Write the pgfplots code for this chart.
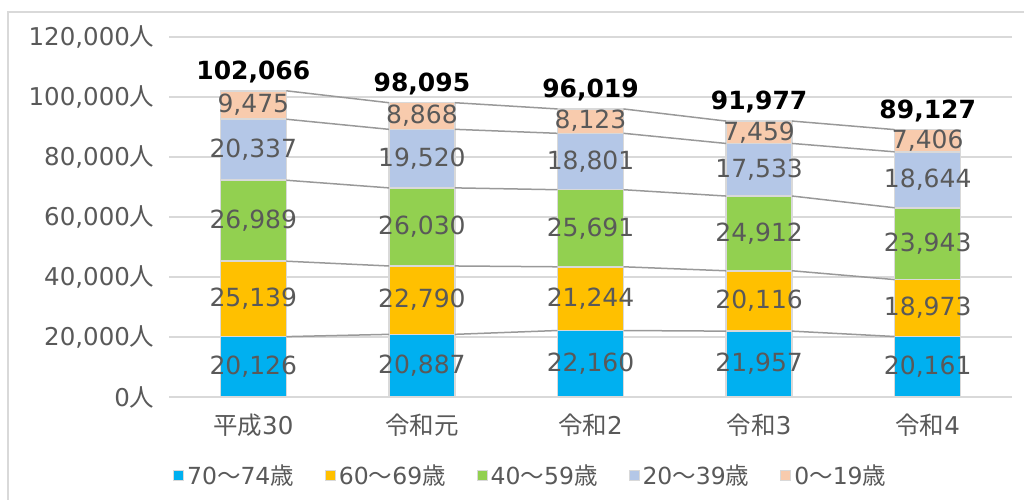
\documentclass[border=0pt]{standalone}
\usepackage{fontspec}
\setmainfont{DejaVu Sans}
\newfontfamily\cjk{Noto Sans CJK JP}
\usepackage{pgfplots}
\pgfplotsset{compat=1.18}
\definecolor{c1}{HTML}{00B0F0}
\definecolor{c2}{HTML}{FFC000}
\definecolor{c3}{HTML}{92D050}
\definecolor{c4}{HTML}{B4C7E7}
\definecolor{c5}{HTML}{F8CBAD}
\definecolor{txt}{HTML}{595959}
\definecolor{gridc}{HTML}{D9D9D9}
\definecolor{conn}{HTML}{999999}
\pgfkeys{/pgf/number format/.cd, fixed, precision=0, 1000 sep={,}}
\pgfplotsset{
  segment/.style={
    fill=#1, draw=gridc, line width=1.5pt,
    legend image code/.code={\draw[fill=#1,draw=gridc,line width=1pt] (0pt,-5pt) rectangle (10pt,5pt);},
  },
  midlabel/.style={
    draw=none, mark=none, point meta=explicit,
    nodes near coords={\pgfmathprintnumber[assume math mode=true]{\pgfplotspointmeta}},
    every node near coord/.append style={anchor=center, inner sep=0pt,
      font=\fontsize{25}{28}\selectfont, text=txt},
  },
}
\begin{document}
\begin{tikzpicture}
\useasboundingbox (0,0) rectangle (1024pt,499pt);
\draw[gridc, line width=2pt] (8pt,-20pt) rectangle (1050pt,487pt);
\begin{axis}[
  at={(169pt,102pt)}, anchor=south west,
  scale only axis, width=843pt, height=360pt,
  ybar stacked, bar width=66pt,
  xmin=-0.5, xmax=4.5, ymin=0, ymax=120000,
  xtick={0,1,2,3,4}, xticklabels={{\cjk 平成}30,{\cjk 令和元},{\cjk 令和}2,{\cjk 令和}3,{\cjk 令和}4},
  ytick={0,20000,40000,60000,80000,100000,120000},
  scaled y ticks=false,
  /pgf/number format/assume math mode=true,
  yticklabel={\pgfmathprintnumber{\tick}{\cjk 人}},
  ymajorgrids, grid style={gridc, line width=1.5pt},
  axis line style={draw=none},
  major tick length=0pt,
  tick label style={font=\fontsize{24.5}{27}\selectfont, text=txt},
  yticklabel style={xshift=-11pt},
  xticklabel style={yshift=-13pt},
  legend style={at={(0.429,-0.217)}, anchor=center, draw=none, legend columns=5,
    font=\fontsize{23.5}{26}\selectfont, text=txt,
    /tikz/every even column/.append style={column sep=29pt},
    /tikz/every odd column/.append style={column sep=1pt}},
  legend cell align=left,
]
\addplot[segment=c1] coordinates {(0,20126) (1,20887) (2,22160) (3,21957) (4,20161)};
\addplot[segment=c2] coordinates {(0,25139) (1,22790) (2,21244) (3,20116) (4,18973)};
\addplot[segment=c3] coordinates {(0,26989) (1,26030) (2,25691) (3,24912) (4,23943)};
\addplot[segment=c4] coordinates {(0,20337) (1,19520) (2,18801) (3,17533) (4,18644)};
\addplot[segment=c5] coordinates {(0,9475) (1,8868) (2,8123) (3,7459) (4,7406)};
\legend{70{\cjk ～}74{\cjk 歳},60{\cjk ～}69{\cjk 歳},40{\cjk ～}59{\cjk 歳},20{\cjk ～}39{\cjk 歳},0{\cjk ～}19{\cjk 歳}}
\end{axis}
\begin{axis}[
  at={(169pt,102pt)}, anchor=south west,
  scale only axis, width=843pt, height=360pt,
  xmin=-0.5, xmax=4.5, ymin=0, ymax=120000,
  axis lines=none, clip=false,
  unbounded coords=jump,
]
% connecting lines between segment boundaries
\addplot[conn, line width=1.5pt, mark=none] coordinates {
 (0.196,20126) (0.804,20887) (nan,nan) (1.196,20887) (1.804,22160) (nan,nan) (2.196,22160) (2.804,21957) (nan,nan) (3.196,21957) (3.804,20161)};
\addplot[conn, line width=1.5pt, mark=none] coordinates {
 (0.196,45265) (0.804,43677) (nan,nan) (1.196,43677) (1.804,43404) (nan,nan) (2.196,43404) (2.804,42073) (nan,nan) (3.196,42073) (3.804,39134)};
\addplot[conn, line width=1.5pt, mark=none] coordinates {
 (0.196,72254) (0.804,69707) (nan,nan) (1.196,69707) (1.804,69095) (nan,nan) (2.196,69095) (2.804,66985) (nan,nan) (3.196,66985) (3.804,63077)};
\addplot[conn, line width=1.5pt, mark=none] coordinates {
 (0.196,92591) (0.804,89227) (nan,nan) (1.196,89227) (1.804,87896) (nan,nan) (2.196,87896) (2.804,84518) (nan,nan) (3.196,84518) (3.804,81721)};
\addplot[conn, line width=1.5pt, mark=none] coordinates {
 (0.196,102066) (0.804,98095) (nan,nan) (1.196,98095) (1.804,96019) (nan,nan) (2.196,96019) (2.804,91977) (nan,nan) (3.196,91977) (3.804,89127)};
% segment value labels at segment midpoints
\addplot[midlabel] coordinates {(0,10063) [20126] (1,10443.5) [20887] (2,11080) [22160] (3,10978.5) [21957] (4,10080.5) [20161]};
\addplot[midlabel] coordinates {(0,32695.5) [25139] (1,32282) [22790] (2,32782) [21244] (3,32015) [20116] (4,29647.5) [18973]};
\addplot[midlabel] coordinates {(0,58759.5) [26989] (1,56692) [26030] (2,56249.5) [25691] (3,54529) [24912] (4,51105.5) [23943]};
\addplot[midlabel] coordinates {(0,82422.5) [20337] (1,79467) [19520] (2,78495.5) [18801] (3,75751.5) [17533] (4,72399) [18644]};
\addplot[midlabel] coordinates {(0,97328.5) [9475] (1,93661) [8868] (2,91957.5) [8123] (3,88247.5) [7459] (4,85424) [7406]};
% totals
\addplot[draw=none, mark=none, point meta=y,
  nodes near coords={\pgfmathprintnumber[assume math mode=true]{\pgfplotspointmeta}},
  every node near coord/.append style={anchor=base, yshift=11.5pt, inner sep=0pt,
    font=\fontsize{25}{28}\selectfont\bfseries, text=black}]
  coordinates {(0,102066) (1,98095) (2,96019) (3,91977) (4,89127)};
\end{axis}
\end{tikzpicture}
\end{document}
